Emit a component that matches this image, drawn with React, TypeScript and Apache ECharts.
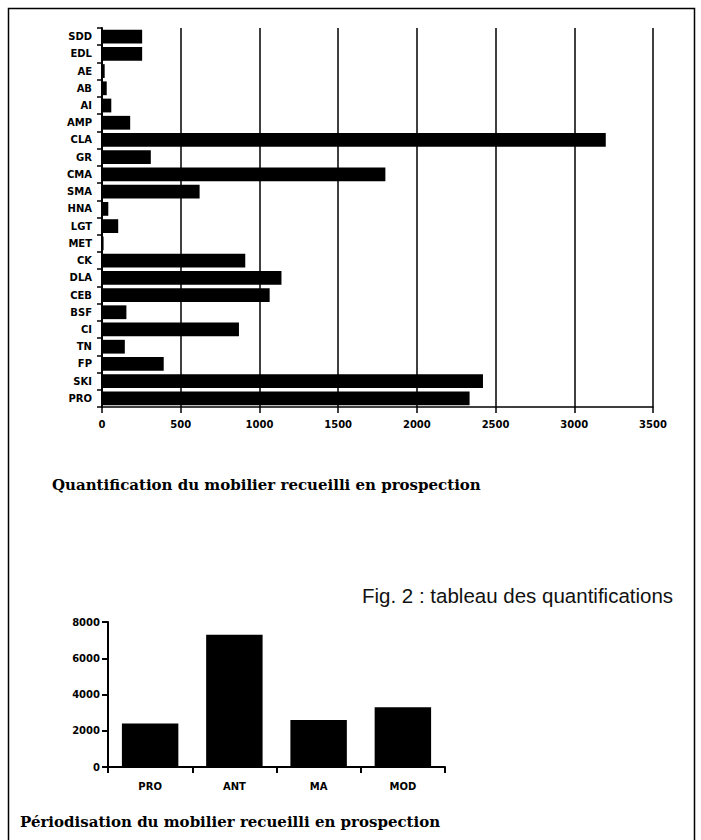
import React, { useEffect, useRef } from "react";
import * as echarts from "echarts";

const quantCategories = ["SDD", "EDL", "AE", "AB", "AI", "AMP", "CLA", "GR", "CMA", "SMA", "HNA", "LGT", "MET", "CK", "DLA", "CEB", "BSF", "CI", "TN", "FP", "SKI", "PRO"];
const quantValues = [255, 255, 17, 30, 59, 179, 3200, 310, 1800, 620, 40, 103, 10, 910, 1140, 1065, 155, 870, 145, 392, 2420, 2335];
const quantTicks = [0, 500, 1000, 1500, 2000, 2500, 3000, 3500];

const periodCategories = ["PRO", "ANT", "MA", "MOD"];
const periodValues = [2400, 7300, 2600, 3300];
const periodTicks = [0, 2000, 4000, 6000, 8000];

const captionTop = "Quantification du mobilier recueilli en prospection";
const captionBottom = "Périodisation du mobilier recueilli en prospection";
const figTitle = "Fig. 2 : tableau des quantifications";

export default function App() {
  const ref = useRef<HTMLDivElement>(null);
  useEffect(() => {
    if (!ref.current) return;
    const chart = echarts.init(ref.current, null, { renderer: "svg" });
    const black = "#000";
    const plain = (v: number) => String(v);
    const lblFont = { color: black, fontWeight: "bold" as const, fontFamily: "DejaVu Sans", fontSize: 10 };
    chart.setOption({
      animation: false,
      backgroundColor: "#fff",
      grid: [
        { left: 102, right: 48, top: 28, height: 379 },
        { left: 108, right: 256, top: 622, height: 145 },
      ],
      xAxis: [
        {
          gridIndex: 0,
          type: "value",
          min: quantTicks[0],
          max: quantTicks[quantTicks.length - 1],
          interval: quantTicks[1] - quantTicks[0],
          axisLine: { show: true, lineStyle: { color: black, width: 1.5 } },
          axisTick: { show: true, length: 6, lineStyle: { color: black, width: 1.5 } },
          splitLine: { show: true, lineStyle: { color: black, width: 1.5 } },
          axisLabel: { ...lblFont, margin: 12, formatter: plain },
        },
        {
          gridIndex: 1,
          type: "category",
          data: periodCategories,
          axisLine: { show: true, lineStyle: { color: black, width: 2 } },
          axisTick: { show: true, length: 6, lineStyle: { color: black, width: 2 } },
          axisLabel: { ...lblFont, margin: 14 },
        },
      ],
      yAxis: [
        {
          gridIndex: 0,
          type: "category",
          inverse: true,
          data: quantCategories,
          axisLine: { show: true, lineStyle: { color: black, width: 2 } },
          axisTick: { show: true, length: 5, lineStyle: { color: black, width: 1.5 } },
          axisLabel: { ...lblFont, margin: 10 },
        },
        {
          gridIndex: 1,
          type: "value",
          min: periodTicks[0],
          max: periodTicks[periodTicks.length - 1],
          interval: periodTicks[1] - periodTicks[0],
          axisLine: { show: true, lineStyle: { color: black, width: 2 } },
          axisTick: { show: true, length: 6, lineStyle: { color: black, width: 2 } },
          splitLine: { show: false },
          axisLabel: { ...lblFont, margin: 8, formatter: plain },
        },
      ],
      series: [
        {
          type: "bar",
          xAxisIndex: 0,
          yAxisIndex: 0,
          data: quantValues,
          barWidth: "80%",
          itemStyle: { color: black },
        },
        {
          type: "bar",
          xAxisIndex: 1,
          yAxisIndex: 1,
          data: periodValues,
          barWidth: "67%",
          itemStyle: { color: black },
        },
      ],
      graphic: [
        {
          type: "rect",
          shape: { x: 8.5, y: 8.5, width: 686, height: 900 },
          style: { fill: "none", stroke: black, lineWidth: 1.5 },
        },
        {
          type: "text",
          x: 52,
          y: 485,
          style: { text: captionTop, fill: black, font: "bold 15px 'DejaVu Serif'", textVerticalAlign: "middle" },
        },
        {
          type: "text",
          x: 362,
          y: 595,
          style: { text: figTitle, fill: "#111", font: "20.5px 'Liberation Sans'", textVerticalAlign: "middle" },
        },
        {
          type: "text",
          x: 20,
          y: 822,
          style: { text: captionBottom, fill: black, font: "bold 15px 'DejaVu Serif'", textVerticalAlign: "middle" },
        },
      ],
    });
    return () => chart.dispose();
  }, []);
  return (
    <div
      ref={ref}
      style={{ position: "absolute", left: 0, top: 0, width: 701, height: 840, background: "#fff" }}
    />
  );
}
